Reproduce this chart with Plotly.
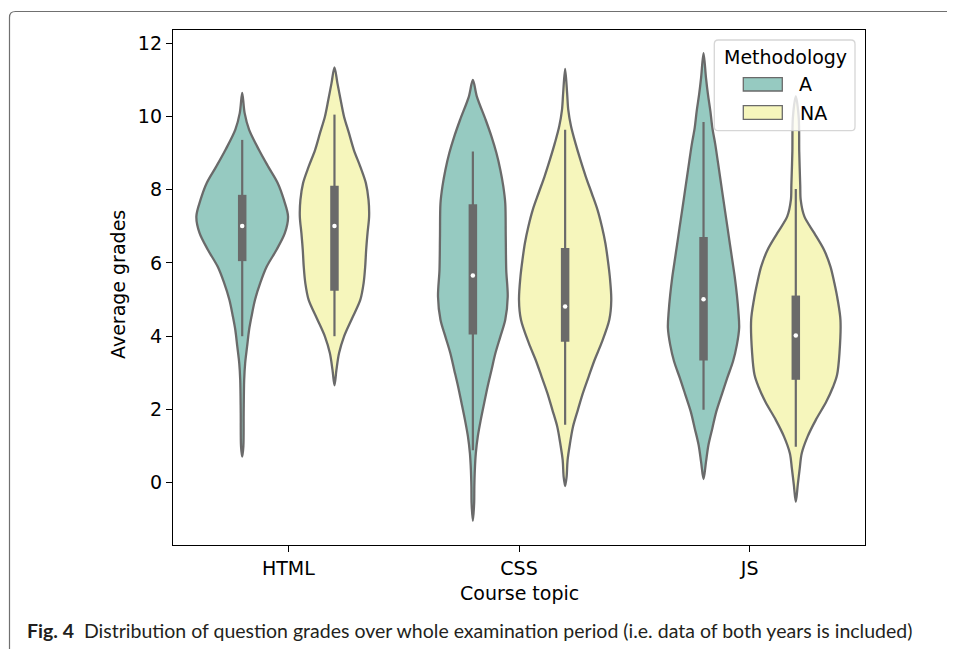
import plotly.graph_objects as go

# ---------------- data ----------------
categories = ["HTML", "CSS", "JS"]
hues = ["A", "NA"]

# violin density profiles: grade grid (y) and relative density at each grade
html_a_y = [0.71, 1.0, 1.9, 2.8, 3.26, 3.72, 4.17, 4.54, 4.99, 5.46, 5.90, 6.36, 6.82, 7.27, 7.72, 8.19, 8.63, 9.09, 9.64, 10.09, 10.64]
html_a_d = [0, 1.2, 1.5, 2, 3, 5, 7, 9.5, 13, 18.5, 25, 35, 43.5, 46.7, 42.5, 36, 26.5, 17, 7, 2.5, 0]

html_na_y = [2.66, 3.08, 3.54, 3.99, 4.49, 4.99, 5.45, 5.90, 6.36, 6.82, 7.27, 7.72, 8.18, 8.63, 9.09, 9.55, 10.0, 10.45, 10.91, 11.34]
html_na_d = [0, 2, 4.7, 9.7, 18, 26.3, 29.7, 31.3, 32.3, 33.7, 35.3, 34.7, 32, 26.3, 19.7, 14.7, 9.7, 6.3, 3, 0]

css_a_y = [-1.04, -0.56, -0.11, 0.35, 0.80, 1.26, 1.71, 2.17, 2.62, 3.08, 3.54, 3.99, 4.45, 5.08, 5.81, 6.72, 7.63, 8.09, 8.54, 9.0, 9.45, 9.91, 10.55, 11.0]
css_a_d = [0, 1.3, 1.5, 2, 3, 5, 8, 11.5, 15, 19, 23, 28, 33, 35.5, 34, 33.5, 33, 31, 28, 24, 19, 13, 4, 0]

css_na_y = [-0.09, 0.16, 0.62, 1.08, 1.53, 1.99, 2.44, 2.90, 3.35, 3.81, 4.45, 4.99, 5.63, 6.08, 6.54, 6.99, 7.45, 7.91, 8.36, 8.82, 9.27, 9.73, 10.18, 10.64, 11.30]
css_na_d = [0, 1.5, 2.5, 5, 8, 13, 18, 24, 30, 37, 45, 47, 45.5, 43.5, 41, 37.5, 33, 27, 21, 15.5, 10.5, 6, 3.2, 2, 0]

js_a_y = [0.10, 0.57, 1.03, 1.49, 1.94, 2.40, 2.85, 3.31, 3.77, 4.23, 4.67, 5.12, 5.58, 6.04, 6.49, 6.95, 7.40, 7.86, 8.32, 8.78, 9.23, 9.69, 10.14, 10.60, 11.05, 11.73]
js_a_d = [0, 2.5, 5, 9, 13, 18.5, 24, 30, 34, 36.3, 35.5, 34, 32, 29.5, 27, 24.5, 22, 19.5, 17, 14.5, 12, 9, 7, 4.5, 2.5, 0]

js_na_y = [-0.52, -0.06, 0.39, 0.80, 1.26, 1.71, 2.21, 2.62, 2.94, 3.54, 4.44, 4.99, 5.45, 5.90, 6.36, 6.82, 7.27, 7.72, 8.13, 9.04, 9.96, 10.55]
js_na_d = [0, 2, 4, 6, 12, 20.3, 31, 38, 42, 44.5, 45.5, 42.7, 39.3, 35.3, 28.7, 18.7, 8.7, 5, 4.5, 3.5, 3, 0]

# inner box statistics per course topic
q1_a = [6.05, 4.05, 3.34]
median_a = [7.01, 5.66, 5.01]
q3_a = [7.86, 7.60, 6.71]
whislo_a = [4.00, 0.89, 1.99]
whishi_a = [9.36, 9.04, 9.85]

q1_na = [5.24, 3.85, 2.81]
median_na = [7.01, 4.81, 4.02]
q3_na = [8.11, 6.41, 5.11]
whislo_na = [4.00, 1.58, 0.98]
whishi_na = [10.05, 9.64, 8.02]

y_ticks = [0, 2, 4, 6, 8, 10, 12]

# ---------------- styling ----------------
FILL = {"A": "#96cac1", "NA": "#f6f6bc"}
GRAY = "#6a6a6a"
FONT = "DejaVu Sans"
OFF = 8  # page body margin
W, H = 955 - OFF, 649 - OFF
L, R, T, B = 173 - OFF, 865 - OFF, 30 - OFF, 545 - OFF


def px_x(px):  # reference-image pixel -> paper coordinate
    return (px - OFF - L) / (R - L)


def px_y(py):
    return (B - (py - OFF)) / (B - T)


profiles = {
    (0, "A"): (html_a_y, html_a_d), (0, "NA"): (html_na_y, html_na_d),
    (1, "A"): (css_a_y, css_a_d), (1, "NA"): (css_na_y, css_na_d),
    (2, "A"): (js_a_y, js_a_d), (2, "NA"): (js_na_y, js_na_d),
}
stats = {
    "A": (q1_a, median_a, q3_a, whislo_a, whishi_a),
    "NA": (q1_na, median_na, q3_na, whislo_na, whishi_na),
}
offset = {"A": -0.2, "NA": 0.2}
dmax = max(max(d) for _, d in profiles.values())
half = 0.2

fig = go.Figure()
for ci, cat in enumerate(categories):
    for hue in hues:
        ys, ds = profiles[(ci, hue)]
        c = ci + offset[hue]
        s = half / dmax
        xs = [c + d * s for d in ds] + [c - d * s for d in ds[::-1][1:]]
        yy = list(ys) + list(ys[::-1][1:])
        fig.add_trace(go.Scatter(
            x=xs, y=yy, mode="lines", fill="toself", fillcolor=FILL[hue],
            line=dict(color=GRAY, width=2.3, shape="spline", smoothing=0.9),
            hoverinfo="skip", showlegend=False))
        q1, med, q3, lo, hi = (v[ci] for v in stats[hue])
        fig.add_trace(go.Scatter(x=[c, c], y=[lo, hi], mode="lines",
                                 line=dict(color=GRAY, width=2.2), showlegend=False, hoverinfo="skip"))
        fig.add_trace(go.Scatter(x=[c, c], y=[q1, q3], mode="lines",
                                 line=dict(color=GRAY, width=8.5), showlegend=False, hoverinfo="skip"))
        fig.add_trace(go.Scatter(x=[c], y=[med], mode="markers",
                                 marker=dict(color="white", size=4.5, line=dict(width=0)),
                                 showlegend=False, hoverinfo="skip"))

axis_common = dict(showgrid=False, zeroline=False, showline=True, linecolor="black",
                   linewidth=1.4, mirror=True, ticks="outside", ticklen=6, tickwidth=1.4,
                   tickcolor="black", tickfont=dict(family=FONT, size=19, color="black"))
fig.update_xaxes(range=[-0.5, 2.5], tickvals=list(range(len(categories))), ticktext=categories, **axis_common)
fig.update_yaxes(range=[-1.70, 12.36], tickvals=y_ticks, ticktext=[str(v) for v in y_ticks], **axis_common)

shapes = []
# outer figure frame (rounded corner, continues off-page)
fx0, fy0, r = 9.5, 11.5, 6
shapes.append(dict(type="path", xref="paper", yref="paper", layer="above",
                   path=f"M {px_x(fx0)},{px_y(700)} L {px_x(fx0)},{px_y(fy0 + r)} "
                        f"Q {px_x(fx0)},{px_y(fy0)} {px_x(fx0 + r)},{px_y(fy0)} L {px_x(1000)},{px_y(fy0)}",
                   line=dict(color="#707070", width=1.2)))
# legend box
lx0, lx1, ly0, ly1, lr = 714.3, 855, 40, 130.7, 4
shapes.append(dict(type="path", xref="paper", yref="paper", layer="above",
                   path=(f"M {px_x(lx0 + lr)},{px_y(ly0)} L {px_x(lx1 - lr)},{px_y(ly0)} "
                         f"Q {px_x(lx1)},{px_y(ly0)} {px_x(lx1)},{px_y(ly0 + lr)} "
                         f"L {px_x(lx1)},{px_y(ly1 - lr)} Q {px_x(lx1)},{px_y(ly1)} {px_x(lx1 - lr)},{px_y(ly1)} "
                         f"L {px_x(lx0 + lr)},{px_y(ly1)} Q {px_x(lx0)},{px_y(ly1)} {px_x(lx0)},{px_y(ly1 - lr)} "
                         f"L {px_x(lx0)},{px_y(ly0 + lr)} Q {px_x(lx0)},{px_y(ly0)} {px_x(lx0 + lr)},{px_y(ly0)} Z"),
                   fillcolor="rgba(255,255,255,0.8)", line=dict(color="rgba(204,204,204,0.8)", width=1.3)))
patch_y = {"A": (77.7, 91), "NA": (105.7, 119.3)}
for hue in hues:
    y0, y1 = patch_y[hue]
    shapes.append(dict(type="rect", xref="paper", yref="paper", layer="above",
                       x0=px_x(743.3), x1=px_x(782.3), y0=px_y(y1), y1=px_y(y0),
                       fillcolor=FILL[hue], line=dict(color=GRAY, width=1.3)))

annotations = [
    dict(text="Methodology", x=px_x(785.3), y=px_y(56.7), xanchor="center", yanchor="middle"),
    dict(text=hues[0], x=px_x(796.5), y=px_y(84.3), xanchor="left", yanchor="middle"),
    dict(text=hues[1], x=px_x(797.5), y=px_y(112.5), xanchor="left", yanchor="middle"),
    dict(text="Average grades", x=px_x(118), y=px_y(285), xanchor="center", yanchor="middle", textangle=-90),
    dict(text="Course topic", x=px_x(519), y=px_y(593), xanchor="center", yanchor="middle"),
]
for a in annotations:
    a.update(xref="paper", yref="paper", showarrow=False, font=dict(family=FONT, size=19, color="black"))
annotations.append(dict(
    text="<b>Fig. 4</b>  Distribution of question grades over whole examination period (i.e. data of both years is included)",
    x=px_x(25), y=px_y(630), xref="paper", yref="paper", xanchor="left", yanchor="middle",
    showarrow=False, font=dict(family="Lato", size=19.5, color="#231f20")))

fig.update_layout(width=W, height=H, margin=dict(l=L, r=W - R, t=T, b=H - B, pad=0),
                  paper_bgcolor="white", plot_bgcolor="white", showlegend=False,
                  shapes=shapes, annotations=annotations)

fig.write_html("out.html")
